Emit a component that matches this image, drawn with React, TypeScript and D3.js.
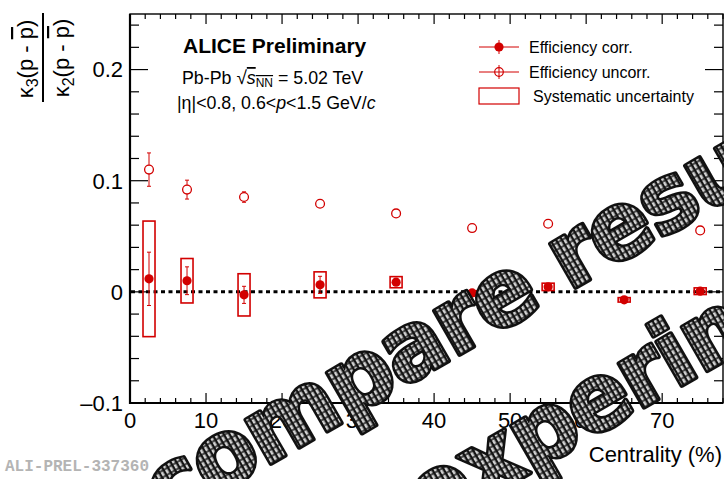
import React from "react";
import * as d3 from "d3";

// centrality bins (%) and kappa3/kappa2 values
const centrality = [2.5, 7.5, 15, 25, 35, 45, 55, 65, 75];
const corrVal = [0.0117, 0.01, -0.0027, 0.0063, 0.0087, -0.001, 0.0045, -0.0072, 0.0006];
const corrStat = [0.024, 0.0125, 0.0077, 0.0077, 0.003, 0.002, 0.002, 0.0015, 0.0015];
const corrSys = [0.052, 0.02, 0.019, 0.0117, 0.005, 0.002, 0.0033, 0.002, 0.003];
const uncorrVal = [0.11, 0.092, 0.0853, 0.0793, 0.0706, 0.0574, 0.0613, 0.058, 0.0553];
const uncorrStat = [0.015, 0.0085, 0.0047, 0.003, 0.0015, 0.001, 0.001, 0.001, 0.001];

const xMajor = [0, 10, 20, 30, 40, 50, 60, 70];
const xLabels = ["0", "10", "20", "30", "40", "50", "60", "70"];
const yMajor = [-0.1, 0, 0.1, 0.2];
const yLabels = ["\u20130.1", "0", "0.1", "0.2"];

const legendItems = ["Efficiency corr.", "Efficiency uncorr.", "Systematic uncertainty"];

const W = 724;
const H = 479;
const RED = "#d20000";
const FONT = "'Liberation Sans', Arial, Helvetica, sans-serif";

const x = d3.scaleLinear().domain([0, 78]).range([130, 723]);
const y = d3.scaleLinear().domain([-0.1, 0.25]).range([403, 14]);

const xMinor = d3.range(0, 79, 2);
const yMinor = d3.range(-5, 13).map((i) => i * 0.02);

function ErrBar({ cx, lo, hi, cap }: { cx: number; lo: number; hi: number; cap: number }) {
  return (
    <g stroke={RED} strokeWidth={1}>
      <line x1={cx} x2={cx} y1={lo} y2={hi} />
      <line x1={cx - cap} x2={cx + cap} y1={lo} y2={lo} />
      <line x1={cx - cap} x2={cx + cap} y1={hi} y2={hi} />
    </g>
  );
}

export default function App() {
  const [x0, x1] = x.range();
  const [yb, yt] = y.range();

  return (
    <svg width={W} height={H} style={{ position: "absolute", left: 0, top: 0, background: "#fff" }} fontFamily={FONT}>
      <defs>
        <pattern id="carbon" width="5" height="6" patternUnits="userSpaceOnUse">
          <rect width="5" height="6" fill="#141414" />
          <rect x="1" y="0.7" width="2.6" height="4.6" fill="#d2d2d2" />
        </pattern>
      </defs>
      <rect width={W} height={H} fill="#fff" />

      {/* frame and ticks */}
      <g stroke="#000">
        <rect x={x0} y={yt} width={x1 - x0} height={yb - yt} fill="none" strokeWidth={1.4} />
        <line x1={x0} x2={x0} y1={yt} y2={yb + 1} strokeWidth={2.2} />
        <line x1={x0} x2={x1} y1={yb} y2={yb} strokeWidth={2.2} />
        {xMinor.map((v) => {
          const len = v % 10 === 0 ? 10 : 5;
          return (
            <g key={"xt" + v} strokeWidth={1.2}>
              <line x1={x(v)} x2={x(v)} y1={yb} y2={yb - len} />
              <line x1={x(v)} x2={x(v)} y1={yt} y2={yt + len} />
            </g>
          );
        })}
        {yMinor.map((v, i) => {
          const len = (i - 5) % 5 === 0 ? 18 : 9;
          return (
            <g key={"yt" + i} strokeWidth={1.2}>
              <line x1={x0} x2={x0 + len} y1={y(v)} y2={y(v)} />
              <line x1={x1} x2={x1 - len} y1={y(v)} y2={y(v)} />
            </g>
          );
        })}
      </g>

      {/* tick labels */}
      <g fontSize={22} fill="#000">
        {yMajor.map((v, i) => (
          <text key={"yl" + i} x={123} y={y(v)} dy="0.36em" textAnchor="end">{yLabels[i]}</text>
        ))}
        {xMajor.map((v, i) => (
          <text key={"xl" + i} x={x(v)} y={428} textAnchor="middle">{xLabels[i]}</text>
        ))}
        <text x={722} y={462} textAnchor="end">Centrality (%)</text>
      </g>

      {/* y title: fraction */}
      <g fontSize={22} fill="#000">
        <text transform="translate(33,59) rotate(-90)" textAnchor="middle">
          κ<tspan dy={5} fontSize={16}>3</tspan>
          <tspan dy={-5}>(p - </tspan>
          <tspan style={{ textDecoration: "overline" }}>p</tspan>)
        </text>
        <line x1={43} x2={43} y1={13} y2={102} stroke="#000" strokeWidth={2} />
        <text transform="translate(69,58) rotate(-90)" textAnchor="middle">
          κ<tspan dy={5} fontSize={16}>2</tspan>
          <tspan dy={-5}>(p - </tspan>
          <tspan style={{ textDecoration: "overline" }}>p</tspan>)
        </text>
      </g>

      {/* zero line */}
      <line x1={x0 + 1} x2={x1} y1={y(0)} y2={y(0)} stroke="#000" strokeWidth={3} strokeDasharray="4,3.5" />

      {/* systematic boxes */}
      {centrality.map((c, i) => (
        <rect key={"sys" + i} x={x(c) - 6} width={12} y={y(corrVal[i] + corrSys[i])}
          height={Math.max(y(corrVal[i] - corrSys[i]) - y(corrVal[i] + corrSys[i]), 3)}
          fill="none" stroke={RED} strokeWidth={1.6} />
      ))}

      {/* efficiency uncorrected */}
      {centrality.map((c, i) => (
        <g key={"un" + i}>
          <ErrBar cx={x(c)} lo={y(uncorrVal[i] - uncorrStat[i])} hi={y(uncorrVal[i] + uncorrStat[i])} cap={2} />
          <circle cx={x(c)} cy={y(uncorrVal[i])} r={4.4} fill="#fff" stroke={RED} strokeWidth={1.3} />
        </g>
      ))}

      {/* efficiency corrected */}
      {centrality.map((c, i) => (
        <g key={"co" + i}>
          <ErrBar cx={x(c)} lo={y(corrVal[i] - corrStat[i])} hi={y(corrVal[i] + corrStat[i])} cap={2} />
          <circle cx={x(c)} cy={y(corrVal[i])} r={4.6} fill={RED} />
        </g>
      ))}

      {/* labels */}
      <g fill="#000">
        <text x={183} y={53} fontSize={21} fontWeight="bold">ALICE Preliminary</text>
        <text x={182} y={84} fontSize={17.8}>
          Pb-Pb <tspan fontSize={19}>√</tspan><tspan style={{ textDecoration: "overline" }} fontStyle="italic">s</tspan>
          <tspan dy={3} fontSize={12} style={{ textDecoration: "overline" }}>NN</tspan>
          <tspan dy={-3}> = 5.02 TeV</tspan>
        </text>
        <text x={177} y={109} fontSize={17.8}>
          |η|&lt;0.8, 0.6&lt;<tspan fontStyle="italic">p</tspan>&lt;1.5 GeV/<tspan fontStyle="italic">c</tspan>
        </text>
      </g>

      {/* legend */}
      <g fontSize={16} fill="#000">
        <line x1={479} x2={519} y1={47} y2={47} stroke={RED} strokeWidth={1} />
        <line x1={499} x2={499} y1={40} y2={54} stroke={RED} strokeWidth={1} />
        <circle cx={499} cy={47} r={4.6} fill={RED} />
        <text x={529} y={47} dy="0.36em">{legendItems[0]}</text>
        <line x1={479} x2={519} y1={72} y2={72} stroke={RED} strokeWidth={1} />
        <line x1={499} x2={499} y1={65} y2={79} stroke={RED} strokeWidth={1} />
        <circle cx={499} cy={72} r={4.3} fill="none" stroke={RED} strokeWidth={1.2} />
        <text x={529} y={72} dy="0.36em">{legendItems[1]}</text>
        <rect x={479} y={88} width={40} height={16} fill="none" stroke={RED} strokeWidth={1.2} />
        <text x={533} y={96} dy="0.36em">{legendItems[2]}</text>
      </g>

      <text x={5} y={471} fontSize={16} fontWeight="bold" fill="#b4b4b4"
        fontFamily="'Liberation Mono', 'Courier New', monospace">ALI-PREL-337360</text>

      {/* watermark */}
      <g fontSize={92} fontWeight="bold" fill="url(#carbon)" stroke="#111" strokeWidth={5}
        fontFamily="'DejaVu Sans', Verdana, sans-serif"
        style={{ paintOrder: "stroke" }} strokeLinejoin="round">
        <text transform="translate(166,524) rotate(-30)" letterSpacing={-2}>compare results</text>
        <text transform="translate(428,532) rotate(-30)" letterSpacing={-2}>experiment</text>
      </g>
    </svg>
  );
}
